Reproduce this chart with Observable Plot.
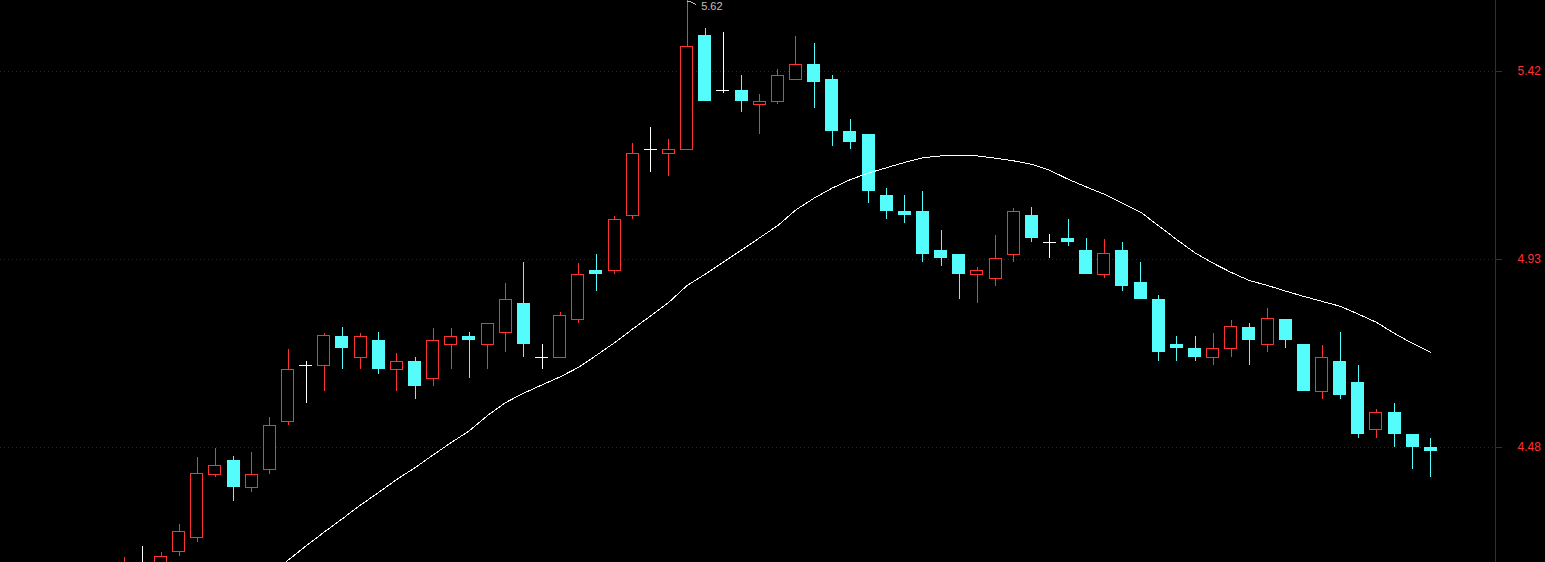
<!DOCTYPE html>
<html><head><meta charset="utf-8">
<script src="https://cdn.jsdelivr.net/npm/d3@7"></script>
<script src="https://cdn.jsdelivr.net/npm/@observablehq/plot@0.6"></script>
<style>html,body{margin:0;padding:0;background:#000;overflow:hidden}</style>
</head><body><div id="chart"></div>
<script>
const open  = [4.189,4.210,4.199,4.249,4.279,4.418,4.451,4.389,4.430,4.539,4.671,4.670,4.740,4.688,4.730,4.659,4.680,4.638,4.719,4.740,4.719,4.749,4.820,4.689,4.689,4.780,4.901,4.900,5.038,5.210,5.198,5.209,5.521,5.368,5.369,5.329,5.337,5.397,5.440,5.399,5.259,5.251,5.091,5.050,5.050,4.951,4.941,4.890,4.880,4.940,5.039,4.971,4.981,4.951,4.890,4.951,4.871,4.829,4.720,4.711,4.688,4.709,4.762,4.719,4.781,4.720,4.608,4.680,4.631,4.520,4.561,4.510,4.480];
const high  = [4.238,4.261,4.249,4.309,4.458,4.479,4.460,4.469,4.549,4.708,4.680,4.748,4.762,4.747,4.749,4.699,4.690,4.759,4.759,4.749,4.771,4.869,4.921,4.720,4.798,4.918,4.941,5.037,5.226,5.269,5.237,5.620,5.540,5.529,5.410,5.358,5.426,5.519,5.498,5.410,5.290,5.251,5.109,5.091,5.101,5.001,4.941,4.908,4.989,5.057,5.060,4.991,5.029,4.981,4.978,4.971,4.921,4.839,4.740,4.740,4.747,4.778,4.771,4.808,4.781,4.720,4.718,4.749,4.671,4.568,4.582,4.510,4.501];
const low   = [4.178,4.189,4.189,4.241,4.271,4.412,4.360,4.380,4.420,4.531,4.582,4.610,4.662,4.662,4.650,4.610,4.591,4.622,4.662,4.641,4.662,4.702,4.690,4.662,4.689,4.772,4.850,4.891,5.029,5.150,5.141,5.209,5.340,5.361,5.310,5.251,5.332,5.397,5.321,5.219,5.211,5.071,5.030,5.020,4.922,4.912,4.830,4.820,4.862,4.922,4.972,4.932,4.961,4.891,4.882,4.850,4.830,4.681,4.681,4.681,4.671,4.690,4.671,4.702,4.712,4.610,4.591,4.591,4.502,4.502,4.481,4.432,4.412];
const close = [4.218,4.210,4.239,4.292,4.420,4.440,4.391,4.419,4.530,4.660,4.671,4.740,4.712,4.739,4.662,4.679,4.622,4.730,4.739,4.731,4.771,4.828,4.721,4.689,4.790,4.890,4.891,5.028,5.199,5.210,5.210,5.489,5.340,5.368,5.340,5.338,5.409,5.439,5.392,5.259,5.230,5.102,5.050,5.040,4.942,4.931,4.891,4.901,4.930,5.049,4.982,4.971,4.972,4.891,4.941,4.862,4.830,4.702,4.712,4.690,4.710,4.762,4.731,4.781,4.731,4.610,4.689,4.600,4.511,4.560,4.511,4.481,4.472];
const ma    = [null,null,null,null,null,null,null,null,4.202,4.232,4.263,4.293,4.322,4.352,4.380,4.409,4.435,4.464,4.492,4.519,4.554,4.584,4.606,4.625,4.644,4.666,4.695,4.725,4.758,4.790,4.823,4.864,4.892,4.922,4.952,4.983,5.014,5.054,5.084,5.110,5.132,5.149,5.163,5.177,5.189,5.194,5.194,5.194,5.188,5.181,5.172,5.156,5.133,5.113,5.094,5.071,5.048,5.013,4.978,4.945,4.919,4.896,4.876,4.864,4.850,4.837,4.825,4.813,4.794,4.774,4.747,4.723,4.702];
// grid levels (equal log steps) and their rounded labels
const tickValues = [4.4807, 4.9284, 5.4208];
const tickLabels = ["4.48", "4.93", "5.42"];

const UP = "#ff3232", DOWN = "#54fcfc", FLAT = "#ffffff";
const data = open.map((o, i) => ({i, open: o, high: high[i], low: low[i], close: close[i], ma: ma[i]}));
const up = data.filter(d => d.close > d.open);
const down = data.filter(d => d.close < d.open);
const flat = data.filter(d => d.close === d.open);
const peak = d3.maxIndex(high);

const plot = Plot.plot({
  width: 1545, height: 562,
  marginTop: 0, marginBottom: 0, marginLeft: 0, marginRight: 50,
  style: "background:#000;color:#ff3232;font-family:'Liberation Sans',Arial,sans-serif;font-size:12px;shape-rendering:crispEdges;overflow:visible",
  x: {type: "band", domain: d3.range(open.length), paddingInner: 0.2834, paddingOuter: 4.849, align: 0.6696, round: false, axis: null},
  y: {type: "log", domain: [4.2271, 5.6194], axis: null},
  marks: [
    Plot.gridY(tickValues, {stroke: "#8c0000", strokeOpacity: 1, strokeDasharray: "1,3"}),
    Plot.ruleX(up, {x: "i", y1: "low", y2: "high", stroke: UP, clip: true}),
    Plot.ruleX(down, {x: "i", y1: "low", y2: "high", stroke: DOWN, clip: true}),
    Plot.ruleX(flat, {x: "i", y1: "low", y2: "high", stroke: FLAT, clip: true}),
    Plot.barY(down, {x: "i", y1: "open", y2: "close", fill: DOWN, clip: true}),
    Plot.barY(up, {x: "i", y1: "open", y2: "close", fill: "#000", stroke: UP, insetLeft: 0.5, insetRight: 0.5, clip: true}),
    Plot.tickY(flat, {x: "i", y: "close", stroke: FLAT, clip: true}),
    Plot.lineY(data, {x: "i", y: "ma", stroke: "#ffffff", strokeWidth: 1, clip: true}),
    Plot.text([peak], {x: d => d, y: d => high[d], text: d => high[d].toFixed(2), dx: 14, dy: 6, textAnchor: "start", fill: "#c0c0c0", fontSize: 11}),
    Plot.frame({anchor: "right", stroke: "#a80000"}),
    Plot.axisY(tickValues, {anchor: "right", tickSize: 6, tickPadding: 16, stroke: "#a80000",
      tickFormat: d => tickLabels[tickValues.indexOf(d)]})
  ]
});

// small leader from the peak wick to its label
const sx = plot.scale("x"), sy = plot.scale("y");
const px = sx.apply(peak) + sx.bandwidth / 2, py = sy.apply(high[peak]);
d3.select(plot).append("path")
  .attr("d", `M${px + 0.5},${py + 1.5}L${px + 3},${py + 1.5}L${px + 9},${py + 4.5}`)
  .attr("fill", "none").attr("stroke", "#c0c0c0").attr("stroke-width", 1);

document.getElementById("chart").appendChild(plot);
</script>
</body></html>
